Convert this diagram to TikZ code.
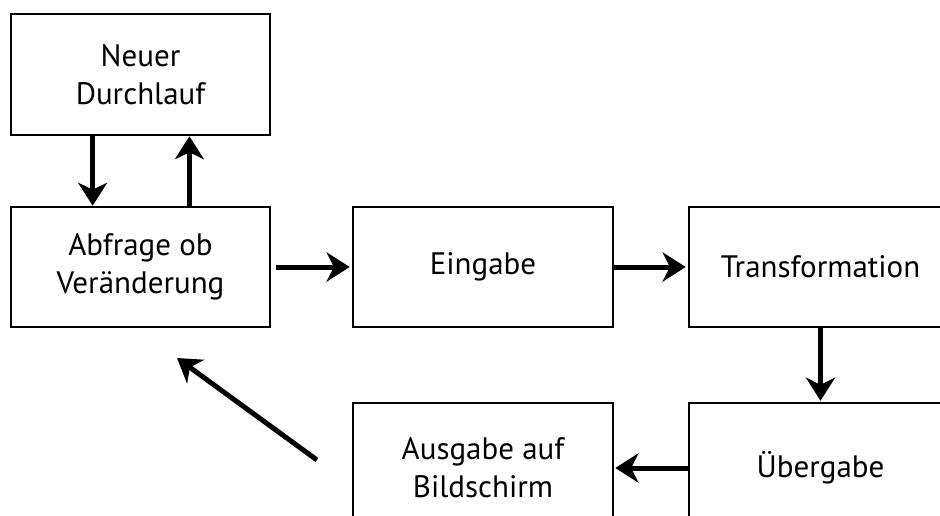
\documentclass[tikz,border=0pt]{standalone}
\usepackage{fontspec}
\setmainfont{PT Sans}
\usetikzlibrary{arrows.meta,calc}
\begin{document}
\begin{tikzpicture}[x=1pt,y=-1pt,
  stepbox/.style={draw=black,line width=2.5pt,fill=white,align=center,
    inner sep=0pt,font=\fontsize{31}{38}\selectfont},
  flow/.style={line width=5pt,-{Stealth[length=23pt,width=29pt,inset=7pt]}}]
\useasboundingbox (0,0) rectangle (940,516);
\fill[white] (0,0) rectangle (940,516);
% boxes
\node[stepbox,minimum width=259pt,minimum height=121pt] (nd) at (140.5,74.5) {Neuer\\Durchlauf};
\node[stepbox,minimum width=259pt,minimum height=120pt] (ab) at (140.5,267) {Abfrage ob\\Veränderung};
\node[stepbox,minimum width=260pt,minimum height=120pt] (ei) at (483,267) {Eingabe};
\node[stepbox,minimum width=263pt,minimum height=120pt] (tr) at (820.5,267) {Transformation};
\node[stepbox,minimum width=263pt,minimum height=130pt] (ue) at (820.5,468) {Übergabe};
\node[stepbox,minimum width=260pt,minimum height=130pt] (au) at (483,468) {Ausgabe auf\\Bildschirm};
% connectors
\draw[flow] ($(nd.south west)!0.317!(nd.south east)$) -- ($(ab.north west)!0.317!(ab.north east)$);
\draw[flow] ($(ab.north west)!0.687!(ab.north east)$) -- ($(nd.south west)!0.687!(nd.south east)$);
\draw[flow,shorten <=5pt,shorten >=2pt] (ab.east) -- (ei.west);
\draw[flow,shorten >=2pt] (ei.east) -- (tr.west);
\draw[flow,shorten >=1pt] (tr.south) -- (ue.north);
\draw[flow,shorten >=1pt] (ue.west) -- (au.east);
\coordinate (back) at (317,460);
\coordinate (backtip) at (177,358);
\draw[flow] (back) -- (backtip);
\end{tikzpicture}
\end{document}
